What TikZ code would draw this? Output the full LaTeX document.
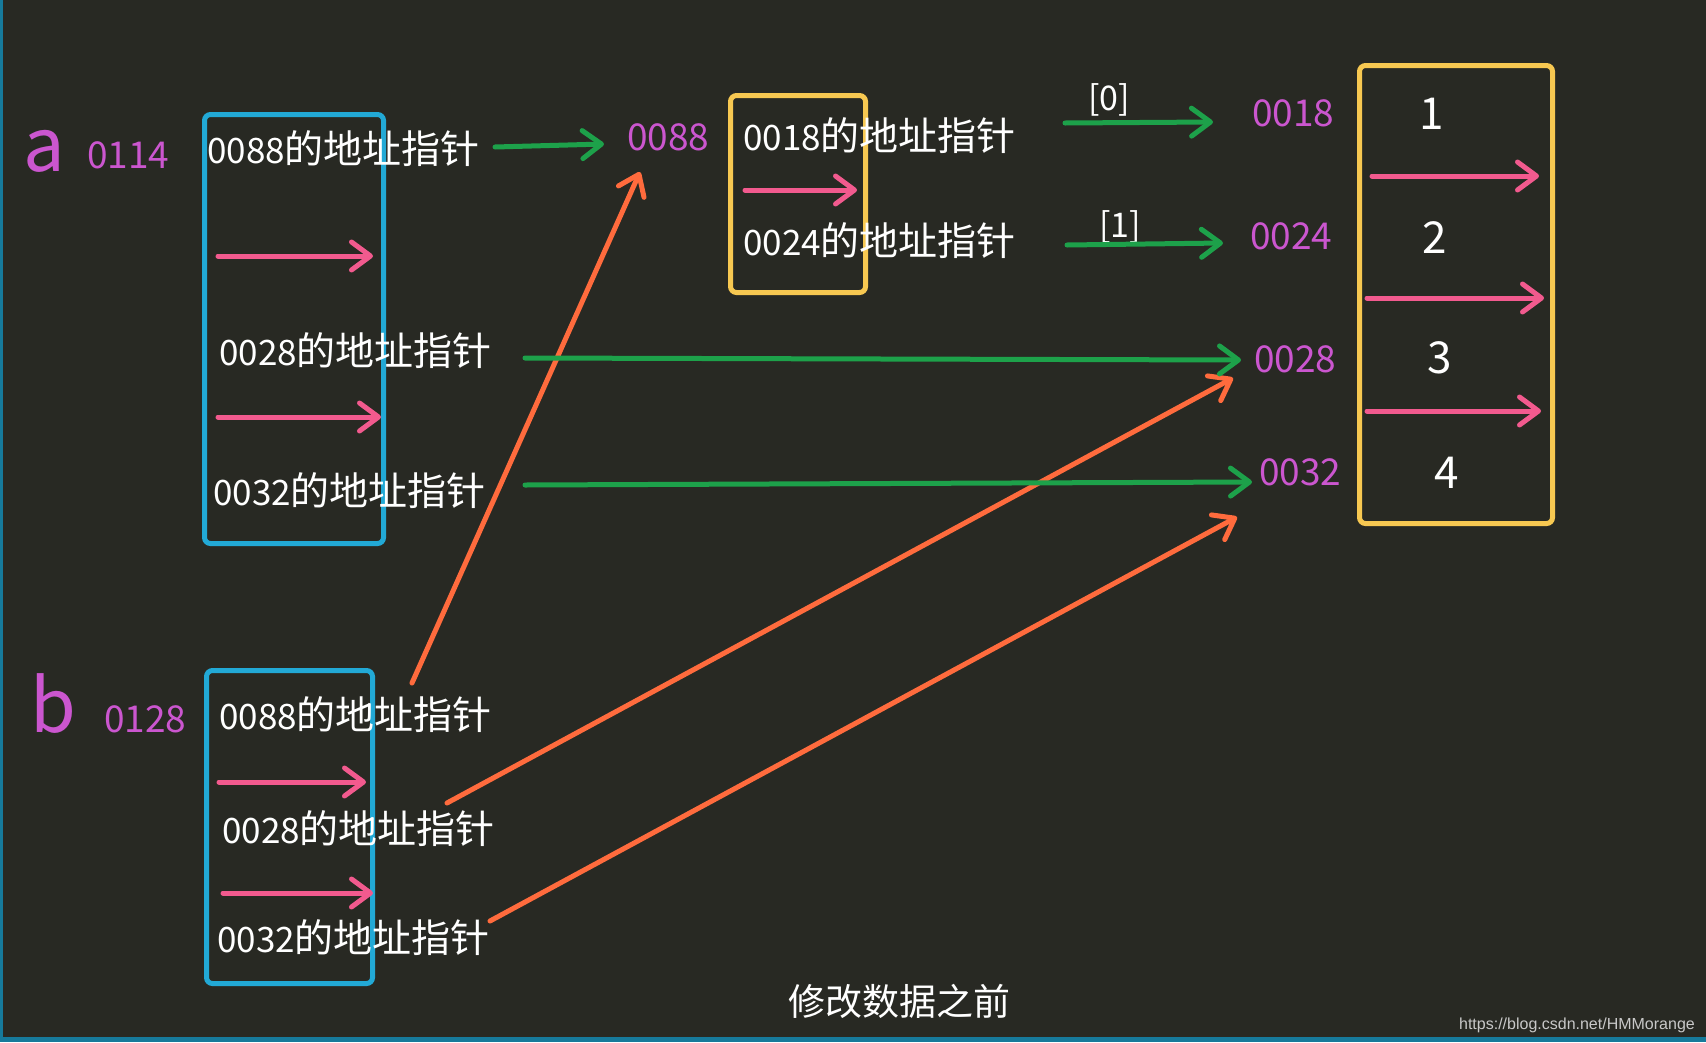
\documentclass[tikz,border=0pt]{standalone}
\usepackage{fontspec}
\setmainfont{Noto Sans CJK SC}
\newfontfamily\wmfont{Liberation Sans}
\usetikzlibrary{arrows.meta}
\definecolor{bgc}{HTML}{282923}
\definecolor{edgec}{HTML}{167A9B}
\definecolor{boxblue}{HTML}{22A9D6}
\definecolor{boxyel}{HTML}{F7C851}
\definecolor{pinkc}{HTML}{F25A8E}
\definecolor{greenc}{HTML}{1DA14A}
\definecolor{orangec}{HTML}{FF6B3D}
\definecolor{addrc}{HTML}{CB56CF}
\definecolor{wmc}{HTML}{C8C8C8}
\newcommand\ptrlbl[1]{#1{\fontsize{39}{42}\selectfont 的地址指针}}
\begin{document}
\begin{tikzpicture}[x=1pt,y=-1pt,
  lbl/.style={text=white,font=\fontsize{35}{38}\selectfont,inner sep=0pt,anchor=base west},
  addr/.style={text=addrc,font=\fontsize{37}{40}\selectfont,inner sep=0pt,anchor=base west},
  big/.style={text=addrc,font=\fontsize{74}{76}\selectfont,inner sep=0pt,anchor=base},
  val/.style={text=white,font=\fontsize{44}{48}\selectfont,inner sep=0pt,anchor=base},
  idx/.style={text=white,font=\fontsize{34}{38}\selectfont,inner sep=0pt,anchor=base west},
  bluebox/.style={draw=boxblue,line width=5pt,rounded corners=6pt,inner sep=0pt},
  yelbox/.style={draw=boxyel,line width=5pt,rounded corners=6pt,inner sep=0pt},
  arr/.style={line width=5pt,line cap=round,-{Straight Barb[length=19pt,width=28pt,round]}},
  parr/.style={arr,draw=pinkc},
  garr/.style={arr,draw=greenc},
  oarr/.style={arr,draw=orangec},
]
% background and edges
\fill[bgc] (0,0) rectangle (1706,1042);
\fill[edgec] (0,0) rectangle (3,1042);
\fill[edgec] (0,1037) rectangle (1706,1042);
\useasboundingbox (0,0) rectangle (1706,1042);

% boxes
\node[bluebox,minimum width=179pt,minimum height=429pt] (boxa) at (294,329) {};
\node[bluebox,minimum width=166pt,minimum height=313pt] (boxb) at (289.5,827) {};
\node[yelbox,minimum width=135pt,minimum height=197pt] (boxy) at (798,194) {};
\node[yelbox,minimum width=193pt,minimum height=458pt] (boxv) at (1456,294.5) {};

% variable names and addresses
\node[big] (na) at (44,171) {a};
\node[big] (nb) at (53,732) {b};
\node[addr] (m0114) at (87,168) {0114};
\node[addr] (m0128) at (104,732) {0128};
\node[addr] (m0088) at (627,150) {0088};
\node[addr] (m0018) at (1252,126) {0018};
\node[addr] (m0024) at (1250,249) {0024};
\node[addr] (m0028) at (1254,372) {0028};
\node[addr] (m0032) at (1259,485) {0032};

% pointer labels
\node[lbl] (a1) at (207,163) {\ptrlbl{0088}};
\node[lbl] (a2) at (219,365) {\ptrlbl{0028}};
\node[lbl] (a3) at (213,505) {\ptrlbl{0032}};
\node[lbl] (b1) at (219,729) {\ptrlbl{0088}};
\node[lbl] (b2) at (222,843) {\ptrlbl{0028}};
\node[lbl] (b3) at (217,952) {\ptrlbl{0032}};
\node[lbl] (y1) at (743,150) {\ptrlbl{0018}};
\node[lbl] (y2) at (743,255) {\ptrlbl{0024}};

% index labels
\node[idx] (i0) at (1088,110) {[0]};
\node[idx] (i1) at (1099,237) {[1]};

% values
\node[val] (v1) at (1432,129) {1};
\node[val] (v2) at (1435,253) {2};
\node[val] (v3) at (1440,373) {3};
\node[val] (v4) at (1447,488) {4};

% connector end points
\coordinate (pa1s) at (218,256); \coordinate (pa1e) at (373,256);
\coordinate (pa2s) at (218,417); \coordinate (pa2e) at (381,417);
\coordinate (pb1s) at (219,782); \coordinate (pb1e) at (366,782);
\coordinate (pb2s) at (223,893); \coordinate (pb2e) at (373,893);
\coordinate (pys) at (745,190); \coordinate (pye) at (857,190);
\coordinate (pv1s) at (1372,176); \coordinate (pv1e) at (1539,176);
\coordinate (pv2s) at (1367,298); \coordinate (pv2e) at (1544,298);
\coordinate (pv3s) at (1367,411); \coordinate (pv3e) at (1541,411);

\coordinate (ga1s) at (495,147); \coordinate (ga1e) at (604,144);
\coordinate (gy1s) at (1065,123); \coordinate (gy1e) at (1213,122);
\coordinate (gy2s) at (1067,245); \coordinate (gy2e) at (1223,243);
\coordinate (ga2s) at (525,358); \coordinate (ga2e) at (1241,360);
\coordinate (ga3s) at (525,485); \coordinate (ga3e) at (1252,482);

\coordinate (ob1s) at (412,683); \coordinate (ob1e) at (640,172);
\coordinate (ob2s) at (447,803); \coordinate (ob2e) at (1233,378);
\coordinate (ob3s) at (490,921); \coordinate (ob3e) at (1237,517);

% pink "next" arrows
\draw[parr] (pa1s) -- (pa1e);
\draw[parr] (pa2s) -- (pa2e);
\draw[parr] (pb1s) -- (pb1e);
\draw[parr] (pb2s) -- (pb2e);
\draw[parr] (pys) -- (pye);
\draw[parr] (pv1s) -- (pv1e);
\draw[parr] (pv2s) -- (pv2e);
\draw[parr] (pv3s) -- (pv3e);

% orange arrows from b
\draw[oarr] (ob1s) -- (ob1e);
\draw[oarr] (ob2s) -- (ob2e);
\draw[oarr] (ob3s) -- (ob3e);

% green arrows
\draw[garr] (ga1s) -- (ga1e);
\draw[garr] (gy1s) -- (gy1e);
\draw[garr] (gy2s) -- (gy2e);
\draw[garr] (ga2s) -- (ga2e);
\draw[garr] (ga3s) -- (ga3e);

% caption and watermark
\node[text=white,font=\fontsize{37}{40}\selectfont,inner sep=0pt,anchor=base] (cap) at (899,1015) {修改数据之前};
\node[text=wmc,font=\wmfont\fontsize{16}{18}\selectfont,inner sep=0pt,anchor=base east] (wm) at (1695,1029) {https://blog.csdn.net/HMMorange};
\end{tikzpicture}
\end{document}
